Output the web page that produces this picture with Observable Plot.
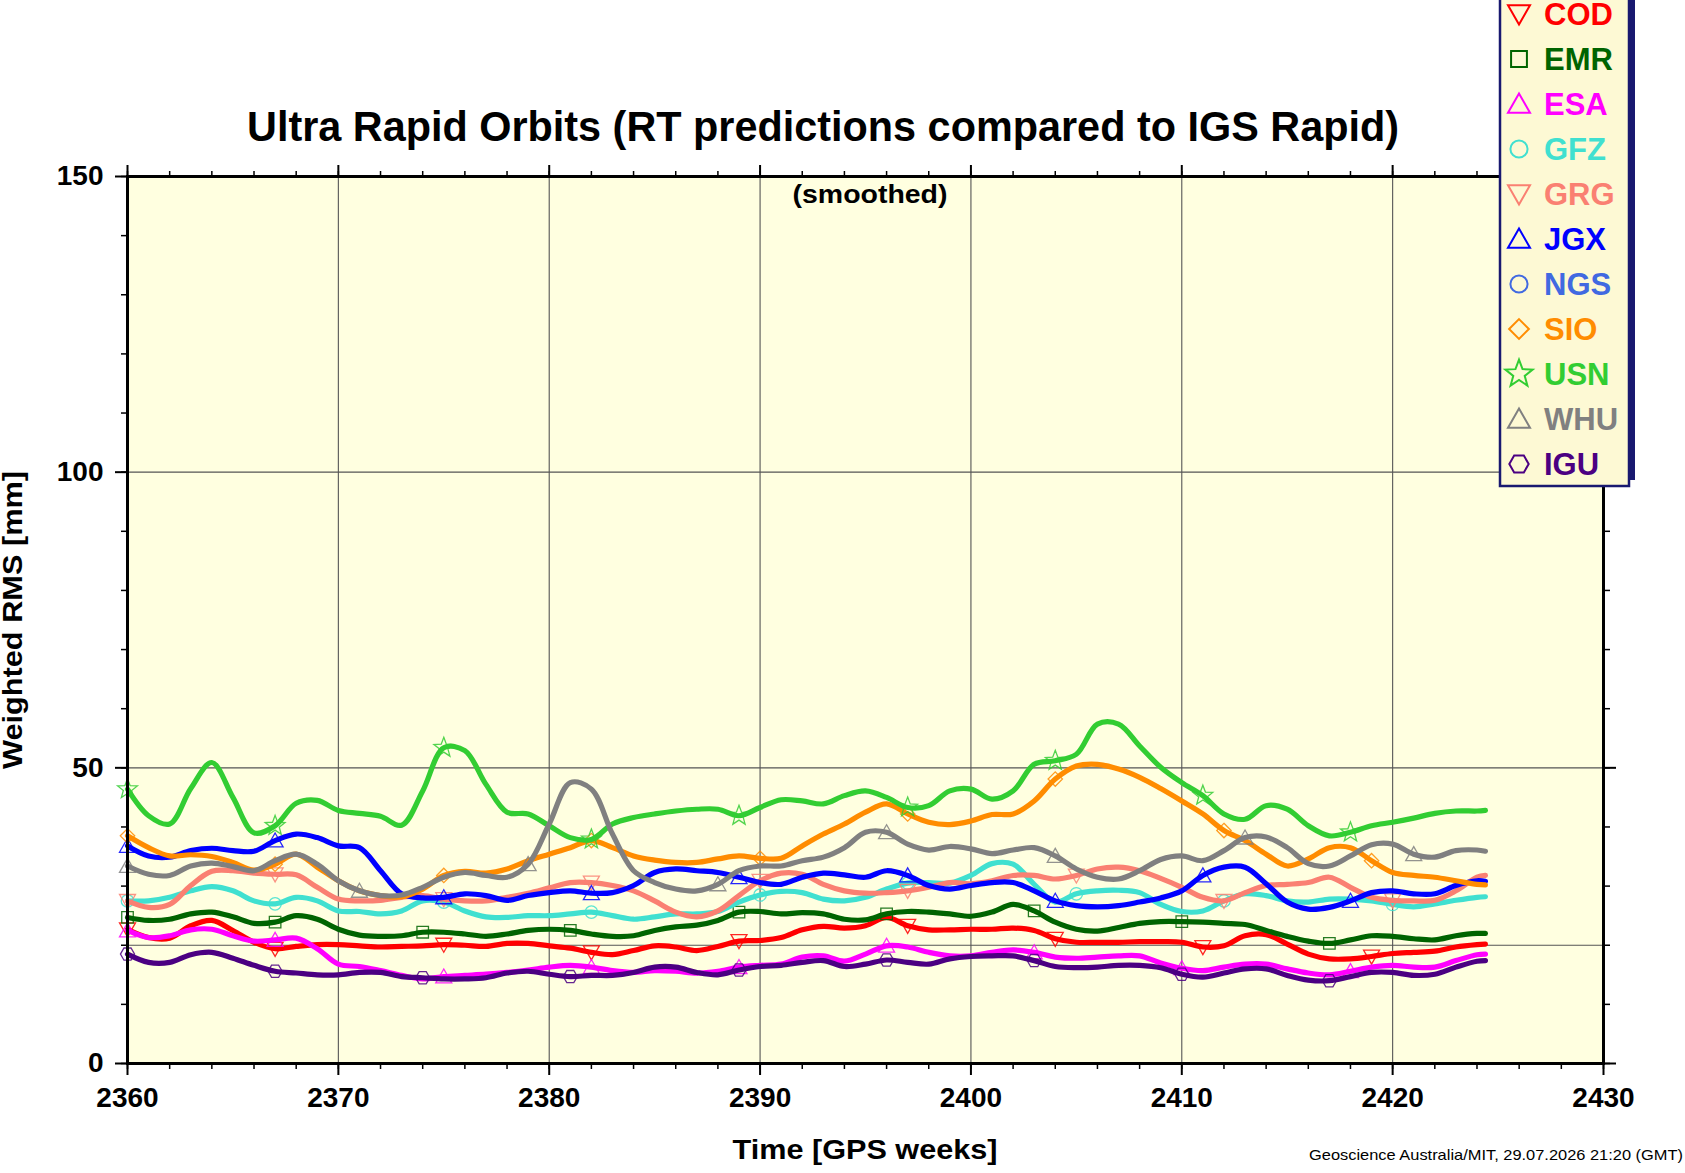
<!DOCTYPE html>
<html><head><meta charset="utf-8">
<script src="https://cdn.jsdelivr.net/npm/d3@7"></script>
<script src="https://cdn.jsdelivr.net/npm/@observablehq/plot@0.6"></script>
<style>html,body{margin:0;padding:0;background:#fff;overflow:hidden}</style>
</head><body><div id="chart"></div><script>
// ---------- data ----------
const weeks = [2360,2361,2362,2363,2364,2365,2366,2367,2368,2369,
  2370,2371,2372,2373,2374,2375,2376,2377,2378,2379,
  2380,2381,2382,2383,2384,2385,2386,2387,2388,2389,
  2390,2391,2392,2393,2394,2395,2396,2397,2398,2399,
  2400,2401,2402,2403,2404,2405,2406,2407,2408,2409,
  2410,2411,2412,2413,2414,2415,2416,2417,2418,2419,
  2420,2421,2422,2423,2424,2424.4];

const seriesNames  = ["COD","EMR","ESA","GFZ","GRG","JGX","NGS","SIO","USN","WHU","IGU"];
const seriesColors = ["#ff0000","#006400","#ff00ff","#40e0d0","#fa8072","#0000ff","#4169e1","#ff8c00","#32cd32","#808080","#4b0082"];
const seriesShapes = ["triDown","square","triUp","circle","triDown","triUp","circle","diamond","star","triUp","hexagon"];

const COD = [22.7,21.3,21.2,23.3,24.2,22.5,20.5,19.4,19.8,20.1,
 20.1,19.9,19.7,19.8,19.9,20.1,20.0,19.8,20.3,20.3,
 19.9,19.5,18.8,18.4,19.1,19.9,19.7,19.1,19.8,20.7,
 20.8,21.3,22.6,23.2,22.9,23.3,24.7,23.3,22.6,22.6,
 22.7,22.7,22.9,22.5,21.1,20.5,20.5,20.5,20.6,20.6,
 20.5,19.7,19.9,21.6,21.8,20.2,18.5,17.7,17.7,18.1,
 18.6,18.8,19.0,19.7,20.1,20.2];
const EMR = [24.7,24.2,24.4,25.3,25.6,24.8,23.7,23.9,25.0,24.4,
 22.7,21.7,21.5,21.6,22.2,22.2,21.9,21.5,21.9,22.5,
 22.7,22.5,21.9,21.5,21.6,22.5,23.1,23.4,24.2,25.6,
 25.7,25.3,25.5,25.3,24.4,24.3,25.3,25.7,25.6,25.3,
 24.9,25.6,26.9,25.8,23.9,22.7,22.4,23.0,23.7,24.0,
 24.0,23.9,23.7,23.5,22.5,21.5,20.7,20.3,20.9,21.6,
 21.5,21.1,20.9,21.6,22.0,22.0];
const ESA = [22.5,21.3,21.6,22.6,22.7,21.6,20.7,20.9,21.2,19.4,
 16.8,16.4,15.7,14.9,14.3,14.7,14.9,15.1,15.4,15.8,
 16.3,16.6,16.3,15.7,15.4,15.7,15.6,15.3,15.6,16.3,
 16.6,16.8,18.0,18.2,17.3,18.5,19.9,19.7,18.8,18.2,
 18.2,18.8,19.2,18.8,18.0,17.8,18.0,18.2,18.2,17.0,
 16.1,15.7,16.3,16.8,16.8,16.0,15.3,15.0,15.6,16.3,
 16.6,16.3,16.3,17.4,18.4,18.5];
const GFZ = [27.5,27.5,28.1,29.2,29.9,29.2,27.5,27.0,28.1,27.5,
 25.8,25.7,25.3,25.8,27.5,27.3,25.8,24.8,24.7,25.0,
 25.0,25.3,25.6,25.0,24.4,24.8,25.3,25.3,25.7,27.3,
 28.5,29.1,28.9,27.8,27.5,28.1,29.5,30.5,30.6,30.5,
 31.8,33.8,33.7,30.3,27.3,28.7,29.2,29.3,28.9,26.9,
 25.7,25.8,27.5,28.7,28.4,27.5,27.3,27.8,27.8,27.5,
 26.9,26.5,27.0,27.6,28.1,28.2];
const GRG = [27.5,26.4,26.9,30.1,32.5,32.6,32.2,32.0,31.9,29.8,
 27.8,27.5,27.6,28.1,28.4,27.8,27.5,27.5,28.1,28.8,
 29.7,30.6,30.6,30.1,29.2,27.5,25.6,24.8,25.8,28.4,
 30.9,32.2,32.0,30.3,29.2,28.8,28.9,29.2,29.8,30.6,
 30.4,30.9,31.8,31.8,31.2,31.8,32.9,33.2,32.6,31.3,
 29.8,28.1,27.5,28.9,30.1,30.3,30.6,31.5,29.8,28.1,
 27.6,27.5,27.6,29.2,31.5,31.8];
const JGX = [36.8,35.1,34.9,36.0,36.4,36.0,35.9,37.7,38.8,38.2,
 36.8,36.5,32.6,28.7,28.0,28.1,28.7,28.4,27.6,28.4,
 28.9,29.2,28.8,28.9,30.1,32.3,32.9,32.6,32.3,31.5,
 30.6,30.3,31.5,32.2,31.9,31.5,32.6,31.8,30.1,29.5,
 30.1,30.6,30.6,29.2,27.5,26.7,26.5,26.7,27.3,28.0,
 29.2,31.8,33.2,33.2,30.4,27.3,26.1,26.4,27.5,28.9,
 29.2,28.7,28.7,30.1,30.9,30.8];
const NGS = [];
const SIO = [38.5,36.5,35.1,35.3,35.0,34.0,32.7,33.7,35.4,33.2,
 30.9,29.2,28.4,28.2,29.5,31.8,32.5,32.2,32.9,34.3,
 35.4,36.5,37.7,36.5,35.1,34.4,34.0,34.0,34.6,35.1,
 34.7,34.7,36.8,38.8,40.5,42.5,43.9,42.2,40.8,40.4,
 41.0,42.1,42.2,44.4,48.1,50.3,50.6,49.8,48.4,46.5,
 44.4,42.2,39.4,37.7,35.4,33.4,34.6,36.5,36.5,34.3,
 32.3,31.8,31.5,30.9,30.3,30.2];
const USN = [46.4,41.9,40.5,46.5,50.9,45.0,39.0,40.2,44.0,44.5,
 42.8,42.3,41.8,40.3,46.1,53.4,52.9,47.2,42.5,42.2,
 40.2,38.2,37.9,40.5,41.6,42.2,42.7,43.0,43.0,41.9,
 43.3,44.6,44.4,43.9,45.3,46.1,45.0,43.3,43.6,46.1,
 46.4,44.7,46.1,50.6,51.2,52.3,57.4,57.4,53.7,50.1,
 47.5,45.3,42.2,41.3,43.6,43.0,40.2,38.5,39.1,40.2,
 40.8,41.5,42.3,42.7,42.7,42.8];
const WHU = [33.4,32.0,31.8,33.4,33.9,33.3,32.6,34.3,35.4,33.7,
 30.9,29.2,28.4,28.5,29.8,31.5,32.3,31.8,31.5,33.7,
 40.5,47.5,46.4,38.8,32.6,30.6,29.5,29.2,30.3,32.6,
 33.4,33.4,34.3,34.9,36.5,39.1,39.1,37.1,36.1,36.7,
 36.3,35.5,36.1,36.5,35.1,32.9,31.5,31.2,32.6,34.5,
 35.1,34.3,36.0,38.2,38.3,36.5,33.8,33.4,35.1,37.0,
 37.1,35.4,34.9,36.0,36.1,35.9];
const IGU = [18.5,17.1,17.1,18.4,18.8,17.8,16.6,15.6,15.3,15.0,
 15.0,15.4,15.4,14.7,14.5,14.3,14.3,14.5,15.3,15.6,
 15.1,14.7,14.9,14.9,15.4,16.3,16.3,15.4,15.0,15.8,
 16.4,16.6,17.1,17.4,16.4,16.8,17.5,17.1,16.8,17.7,
 18.1,18.2,18.2,17.4,16.4,16.2,16.3,16.6,16.6,16.2,
 15.1,14.6,15.3,16.0,16.0,14.9,14.1,14.0,14.7,15.4,
 15.4,14.9,15.1,16.3,17.3,17.4];

// weeks carrying a symbol on each curve
const COD_marks = [2360,2367,2375,2382,2389,2397,2404,2411,2419];
const EMR_marks = [2360,2367,2374,2381,2389,2396,2403,2410,2417];
const ESA_marks = [2360,2367,2375,2382,2389,2396,2403,2410,2418];
const GFZ_marks = [2360,2367,2375,2382,2390,2397,2405,2412,2420];
const GRG_marks = [2360,2367,2375,2382,2390,2397,2405,2412,2420];
const JGX_marks = [2360,2367,2375,2382,2389,2397,2404,2411,2418];
const NGS_marks = [];
const SIO_marks = [2360,2367,2375,2382,2390,2397,2404,2412,2419];
const USN_marks = [2360,2367,2375,2382,2389,2397,2404,2411,2418];
const WHU_marks = [2360,2371,2379,2388,2396,2404,2413,2421];
const IGU_marks = [2360,2367,2374,2381,2389,2396,2403,2410,2417];

const xMajor = [2360,2370,2380,2390,2400,2410,2420,2430];
const xMinor = [2360,2362,2364,2366,2368,2370,2372,2374,2376,2378,2380,2382,2384,2386,2388,2390,2392,2394,2396,2398,2400,2402,2404,2406,2408,2410,2412,2414,2416,2418,2420,2422,2424,2426,2428,2430];
const yMajor = [0,50,100,150];
const yMinor = [0,10,20,30,40,50,60,70,80,90,100,110,120,130,140,150];
const xGrid = [2370,2380,2390,2400,2410,2420];
const yGrid = [20,50,100];

const titleText = "Ultra Rapid Orbits (RT predictions compared to IGS Rapid)";
const subtitleText = "(smoothed)";
const xLabel = "Time [GPS weeks]";
const yLabel = "Weighted RMS [mm]";
const footerText = "Geoscience Australia/MIT, 29.07.2026 21:20 (GMT)";

// ---------- build ----------
const FONT = "'Liberation Sans', Arial, Helvetica, sans-serif";
const valuesBy = {COD, EMR, ESA, GFZ, GRG, JGX, NGS, SIO, USN, WHU, IGU};
const marksBy = {COD:COD_marks, EMR:EMR_marks, ESA:ESA_marks, GFZ:GFZ_marks, GRG:GRG_marks, JGX:JGX_marks, NGS:NGS_marks, SIO:SIO_marks, USN:USN_marks, WHU:WHU_marks, IGU:IGU_marks};

const shapes = {
  triDown: (c,r)=>{c.moveTo(-r,-0.8*r);c.lineTo(r,-0.8*r);c.lineTo(0,0.95*r);c.closePath();},
  triUp:   (c,r)=>{c.moveTo(-r,0.8*r);c.lineTo(r,0.8*r);c.lineTo(0,-0.95*r);c.closePath();},
  square:  (c,r)=>{const h=0.72*r;c.moveTo(-h,-h);c.lineTo(h,-h);c.lineTo(h,h);c.lineTo(-h,h);c.closePath();},
  circle:  (c,r)=>{const h=0.78*r;c.moveTo(h,0);c.arc(0,0,h,0,2*Math.PI);},
  diamond: (c,r)=>{const h=0.9*r;c.moveTo(0,-h);c.lineTo(h,0);c.lineTo(0,h);c.lineTo(-h,0);c.closePath();},
  star:    (c,r)=>{const R=1.3*r, ri=R*0.42;for(let k=0;k<10;k++){const a=-Math.PI/2+k*Math.PI/5;const rr=k%2?ri:R;const x=rr*Math.cos(a),y=rr*Math.sin(a);if(k)c.lineTo(x,y);else c.moveTo(x,y);}c.closePath();},
  hexagon: (c,r)=>{const h=0.88*r;for(let k=0;k<6;k++){const a=k*Math.PI/3;const x=h*Math.cos(a),y=h*Math.sin(a);if(k)c.lineTo(x,y);else c.moveTo(x,y);}c.closePath();}
};
const makeSymbol = name => ({draw(ctx, size){ shapes[name](ctx, Math.sqrt(size/Math.PI)); }});

const seriesMarks = [];
seriesNames.forEach((name, i) => {
  const vals = valuesBy[name];
  if (!vals.length) return;
  const rows = vals.map((v, j) => ({week: weeks[j], value: v}));
  const mk = new Set(marksBy[name]);
  seriesMarks.push(Plot.line(rows, {x: "week", y: "value", stroke: seriesColors[i], strokeWidth: 5.2, curve: "catmull-rom"}));
  seriesMarks.push(Plot.dot(rows.filter(d => mk.has(d.week)), {x: "week", y: "value", symbol: makeSymbol(seriesShapes[i]), r: 8, stroke: seriesColors[i], strokeOpacity: 0.85, strokeWidth: 1.3, fill: "none"}));
});

const blank = () => "";
const chart = Plot.plot({
  width: 1685, height: 1173,
  marginLeft: 127, marginRight: 82, marginTop: 176, marginBottom: 110,
  x: {domain: [2360, 2430], axis: null},
  y: {domain: [0, 150], axis: null},
  style: {fontFamily: FONT, background: "white", color: "black", overflow: "visible"},
  marks: [
    Plot.frame({fill: "#ffffe0", stroke: null}),
    Plot.ruleX(xGrid, {stroke: "#555", strokeWidth: 1.1}),
    Plot.ruleY(yGrid, {stroke: "#555", strokeWidth: 1.1}),
    ...seriesMarks,
    Plot.frame({stroke: "black", strokeWidth: 3}),
    Plot.axisX(xMajor, {anchor: "bottom", tickSize: 12, tickPadding: 12, fontSize: 28, fontWeight: "bold", strokeWidth: 2, label: null, tickFormat: d3.format("d")}),
    Plot.axisX(xMinor, {anchor: "bottom", tickSize: 6, strokeWidth: 1.5, label: null, tickFormat: blank}),
    Plot.axisX(xMajor, {anchor: "top", tickSize: 12, strokeWidth: 2, label: null, tickFormat: blank}),
    Plot.axisX(xMinor, {anchor: "top", tickSize: 6, strokeWidth: 1.5, label: null, tickFormat: blank}),
    Plot.axisY(yMajor, {anchor: "left", tickSize: 12, tickPadding: 12, fontSize: 28, fontWeight: "bold", strokeWidth: 2, label: null, tickFormat: d3.format("d")}),
    Plot.axisY(yMinor, {anchor: "left", tickSize: 6, strokeWidth: 1.5, label: null, tickFormat: blank}),
    Plot.axisY(yMajor, {anchor: "right", tickSize: 12, strokeWidth: 2, label: null, tickFormat: blank}),
    Plot.axisY(yMinor, {anchor: "right", tickSize: 6, strokeWidth: 1.5, label: null, tickFormat: blank})
  ]
});
document.getElementById("chart").appendChild(chart);

// ---------- titles, labels, legend ----------
const svg = d3.select(chart);
function txt(s, x, y, size, weight, anchor, len) {
  const t = svg.append("text").attr("x", x).attr("y", y).attr("font-size", size)
    .attr("font-weight", weight).attr("text-anchor", anchor).attr("fill", "black").text(s);
  if (len) t.attr("textLength", len).attr("lengthAdjust", "spacingAndGlyphs");
  return t;
}
txt(titleText, 823, 141, 42, "bold", "middle", 1152);
txt(subtitleText, 870, 203, 25, "bold", "middle", 155);
txt(xLabel, 865, 1159, 28, "bold", "middle", 265);
txt(footerText, 1683, 1160, 15, "normal", "end", 374);
svg.append("text").attr("transform", "translate(22,620) rotate(-90)").attr("font-size", 28)
  .attr("font-weight", "bold").attr("text-anchor", "middle").attr("fill", "black")
  .attr("textLength", 298).attr("lengthAdjust", "spacingAndGlyphs").text(yLabel);

const lg = svg.append("g");
lg.append("rect").attr("x", 1506).attr("y", -16).attr("width", 129).attr("height", 496).attr("fill", "#191970");
lg.append("rect").attr("x", 1500).attr("y", -10).attr("width", 129).attr("height", 496)
  .attr("fill", "#fdf9d4").attr("stroke", "#191970").attr("stroke-width", 2.5);
seriesNames.forEach((name, i) => {
  const cy = 14 + 45 * i;
  const p = d3.path();
  shapes[seriesShapes[i]](p, 11);
  lg.append("path").attr("d", p.toString()).attr("transform", `translate(1519,${cy})`)
    .attr("fill", "none").attr("stroke", seriesColors[i]).attr("stroke-width", 2);
  lg.append("text").attr("x", 1544).attr("y", cy + 11).attr("font-size", 31).attr("font-weight", "bold")
    .attr("text-anchor", "start").attr("fill", seriesColors[i]).text(name);
});
</script></body></html>
